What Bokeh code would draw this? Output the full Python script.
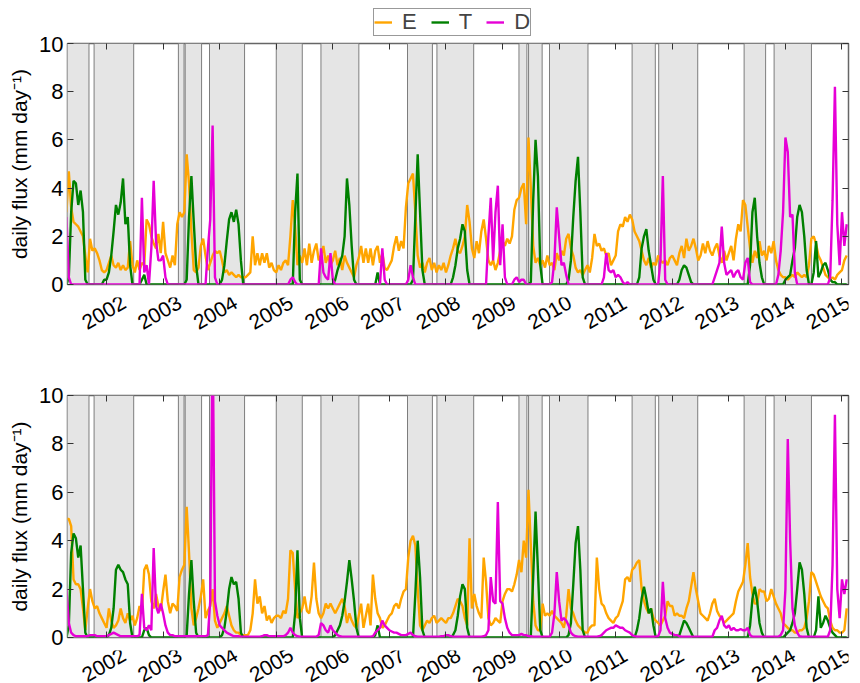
import numpy as np
from bokeh.plotting import figure
from bokeh.models import (FixedTicker, LinearAxis, Range1d, Legend, LegendItem,
                          Label, BoxAnnotation, CustomJSTickFormatter)
from bokeh.layouts import column
from bokeh.embed import file_html
from bokeh.resources import INLINE

# ---------------- data (half-monthly samples, first sample at 2001 + 7/24) ----------------
FIRST_STEP = 7
STEPS_PER_YEAR = 24

E_top = [
    3.0, 4.7, 3.2, 2.6, 2.5, 2.4, 2.2, 2.0, 1.2, 0.5, 1.9, 1.4, 1.5, 1.3, 1.0, 0.6, 0.5,
    0.6, 0.9, 1.2, 0.8, 0.7, 0.9, 0.6, 0.8, 0.6, 0.7, 1.8, 0.8, 0.5, 1.0, 0.6, 0.9, 0.8, 2.7, 2.5, 2.0, 1.7, 1.5, 2.1, 1.3,
    2.6, 1.3, 1.0, 0.7, 1.2, 0.8, 2.5, 3.0, 2.8, 3.0, 5.4, 4.2, 2.2, 0.6, 0.5, 0.7, 1.6, 1.9, 1.2, 0.6, 0.9, 1.2, 1.4, 1.3,
    1.4, 1.0, 0.5, 0.6, 0.4, 0.5, 0.4, 0.3, 0.4, 0.3, 0.3, 0.3, 0.4, 0.5, 2.0, 0.8, 1.3, 0.8, 1.3, 0.9, 1.3, 0.7, 0.9, 0.6,
    0.5, 0.8, 0.6, 0.9, 1.0, 0.8, 2.0, 3.5, 2.4, 0.8, 1.2, 0.9, 1.5, 0.8, 1.7, 0.9, 1.4, 1.7, 1.0, 1.2, 1.6, 0.9, 1.2, 0.8,
    1.0, 1.4, 0.8, 1.1, 0.6, 1.2, 0.9, 0.7, 0.5, 0.3, 0.8, 1.1, 1.6, 0.9, 1.5, 0.9, 1.5, 0.8, 1.4, 1.6, 0.9, 1.3, 0.7, 0.6,
    0.8, 1.0, 1.6, 2.0, 1.4, 1.8, 1.5, 3.2, 4.2, 4.4, 4.6, 3.0, 1.2, 0.7, 0.9, 0.5, 0.9, 1.1, 0.6, 0.9, 0.5, 0.8, 0.6, 0.9,
    0.5, 0.8, 1.2, 1.5, 1.9, 1.4, 1.3, 1.6, 2.0, 3.3, 2.6, 1.5, 1.1, 1.8, 1.3, 2.2, 2.7, 1.9, 1.0, 0.8, 1.0, 0.6, 0.9, 1.4,
    1.8, 1.6, 1.9, 1.7, 2.0, 3.1, 3.5, 3.6, 4.0, 4.2, 2.5, 6.1, 4.0, 1.6, 0.9, 1.1, 0.8, 1.0, 0.7, 1.2, 0.8, 0.9, 0.6, 1.3,
    1.0, 1.4, 1.2, 1.9, 2.1, 1.5, 1.2, 0.7, 0.5, 0.6, 0.4, 0.6, 0.8, 0.5, 1.1, 2.1, 1.6, 1.7, 1.4, 1.5, 1.2, 1.3, 0.8, 1.0,
    1.2, 2.2, 2.5, 2.4, 2.8, 2.6, 2.9, 2.7, 2.2, 2.0, 1.8, 1.4, 1.0, 0.8, 1.1, 0.7, 0.9, 0.8, 1.2, 1.0, 0.9, 1.0, 0.8, 1.1,
    1.2, 1.0, 0.8, 1.3, 1.6, 1.1, 1.9, 1.4, 1.6, 1.9, 1.5, 1.0, 1.2, 1.7, 1.3, 1.8, 1.4, 1.2, 1.5, 1.7, 1.2, 0.9, 1.4, 1.0,
    1.3, 1.6, 1.0, 1.9, 2.5, 2.2, 3.5, 3.3, 2.4, 1.5, 0.9, 1.4, 1.1, 1.8, 1.2, 1.4, 1.0, 1.6, 1.3, 1.8, 1.0, 0.6, 0.4, 0.3,
    0.3, 0.2, 0.3, 0.4, 0.3, 0.5, 0.4, 0.3, 0.4, 0.3, 0.8, 1.9, 2.0, 1.7, 1.2, 1.0, 0.7, 0.4, 0.3, 0.2, 0.3, 0.2, 0.4, 0.5,
    0.6, 1.0, 1.2,
]

T_top = [
    0, 0.3, 3.0, 4.3, 4.2, 3.3, 3.9, 3.0, 0.2, 0, 0, 0, 0, 0, 0, 0, 0.2,
    0.2, 0.5, 1.2, 2.2, 3.3, 2.9, 3.4, 4.4, 2.5, 2.8, 0.8, 0, 0, 0, 0, 0.2, 0.4, 0, 0, 0, 0, 0, 0, 0,
    0, 0, 0, 0, 0, 0, 0, 0, 0, 0, 0.2, 2.8, 4.5, 2.6, 0.8, 0, 0, 0, 0, 0, 0, 0, 0, 0,
    0, 0.2, 0.8, 1.8, 2.7, 3.0, 2.6, 3.1, 2.5, 1.0, 0, 0, 0, 0, 0, 0, 0, 0, 0, 0, 0, 0, 0, 0,
    0, 0, 0, 0, 0, 0, 0, 0, 3.0, 4.6, 0.2, 0, 0, 0, 0, 0, 0, 0, 0, 0, 0, 0, 0, 0,
    0, 0.2, 0.6, 0.9, 1.2, 2.0, 4.4, 3.3, 1.6, 0.2, 0, 0, 0, 0, 0, 0, 0, 0, 0, 0.5, 0, 0, 0, 0,
    0, 0, 0, 0, 0, 0, 0, 0, 0, 0, 0.2, 2.8, 5.4, 3.0, 0.6, 0, 0, 0, 0, 0, 0, 0, 0, 0,
    0, 0, 0, 0.3, 0.8, 1.5, 1.9, 2.5, 2.2, 0.6, 0, 0, 0, 0, 0, 0, 0, 0, 0, 0, 0, 0, 0, 0,
    0, 0, 0, 0, 0, 0, 0, 0, 0, 0, 0, 0, 0.1, 3.5, 6.0, 4.5, 0.8, 0, 0, 0, 0, 0, 0, 0,
    0, 0, 0, 0, 0.2, 1.0, 2.8, 4.3, 5.3, 3.0, 0.3, 0, 0, 0, 0, 0, 0, 0, 0, 0, 0, 0, 0, 0,
    0, 0, 0, 0, 0, 0, 0, 0, 0, 0, 0.3, 1.5, 2.0, 2.3, 1.4, 0.8, 0.2, 0, 0, 0, 0, 0, 0, 0,
    0, 0, 0, 0.2, 0.6, 0.8, 0.7, 0.4, 0.1, 0, 0, 0, 0, 0, 0, 0, 0, 0, 0, 0, 0, 0, 0, 0,
    0, 0, 0, 0, 0, 0, 0, 0, 0, 0.8, 3.0, 3.6, 2.0, 0.9, 0.3, 0, 0, 0, 0, 0, 0, 0, 0, 0,
    0.2, 0.3, 0.4, 1.0, 1.5, 2.8, 3.3, 3.0, 2.0, 0.6, 0, 0, 0.5, 1.8, 0.3, 0.5, 0.8, 0.9, 0.6, 0.2, 0.1, 0.1, 0, 0,
    0, 0, 0,
]

D_top = [
    2.8, 0.3, 0, 0, 0, 0, 0, 0, 0, 0, 0, 0, 0, 0, 0, 0, 0,
    0, 0, 0, 0, 0, 0, 0, 0, 0, 0, 0, 0, 0, 0, 0, 3.6, 0.5, 0.8, 0, 1.5, 4.3, 1.8, 1.0, 1.0,
    1.2, 0.3, 0, 0, 0, 0, 0, 0, 0, 0, 0, 0, 0, 0, 0, 0, 0, 0, 0, 1.5, 2.7, 6.6, 0.3, 0,
    0, 0, 0, 0, 0, 0, 0, 0, 0, 0, 0, 0, 0, 0, 0, 0, 0, 0, 0, 0, 0, 0, 0, 0,
    0, 0, 0, 0, 0, 0, 0.2, 0.3, 0.1, 0, 0, 0, 0, 0, 0, 0, 0, 0, 0, 1.5, 0.5, 0.3, 0.2, 1.3,
    0.2, 0, 0, 0, 0, 0, 0, 0, 0, 0, 0, 0, 0, 0, 0, 0, 0, 0, 0, 0, 0, 1.5, 0.2, 0,
    0, 0, 0, 0, 0, 0, 0, 0, 0.2, 0.8, 0.3, 0, 0, 0, 0, 0, 0, 0, 0, 0, 0, 0, 0, 0,
    0, 0, 0, 0, 0, 0, 0, 0, 0, 0, 0, 0, 0, 0, 0, 0, 0, 0, 2.0, 3.6, 1.0, 3.0, 4.1, 0.8,
    2.5, 0.3, 0, 0, 0, 0.2, 0.3, 0.1, 0.2, 0.2, 0, 0, 0, 0, 0, 0, 0, 0, 0, 0, 0, 0.1, 1.0, 3.2,
    2.0, 0.8, 0.9, 0.4, 0, 0, 0, 0, 0, 0, 0, 0, 0, 0, 0, 0, 0, 0, 0, 0.3, 1.3, 0.6, 0.5, 0.6,
    0.3, 0.4, 0.3, 0.1, 0, 0.1, 0, 0, 0, 0, 0, 0, 0, 0, 0, 0, 0, 0, 0, 1.0, 4.5, 0.2, 0, 0,
    0, 0, 0, 0, 0, 0, 0, 0, 0, 0, 0, 0, 0, 0, 0, 0, 0, 0, 0.3, 0.6, 0.9, 2.4, 0.9, 0.4,
    0.5, 0.6, 0.3, 0.5, 0.6, 0.3, 0.2, 0.9, 1.1, 0.1, 0, 0, 0, 0, 0, 0, 0, 0, 0, 0, 0, 0.4, 1.4, 3.0,
    6.1, 5.5, 2.8, 2.9, 0.5, 0, 0, 0, 0, 0, 0, 0, 0, 0, 0, 0, 0, 0, 0, 0.3, 3.5, 8.2, 2.5, 0.8,
    3.0, 1.6, 2.5,
]

E_bottom = [
    4.9, 4.9, 4.6, 2.4, 2.2, 2.2, 2.0, 1.2, 0.3, 1.2, 2.0, 1.5, 1.2, 1.3, 1.0, 0.8, 0.6,
    0.4, 1.2, 0.7, 0.4, 0.5, 0.7, 1.2, 0.8, 0.6, 1.0, 0.7, 0.9, 0.5, 0.8, 1.3, 1.0, 2.8, 3.0, 2.6, 1.5, 1.2, 1.8, 1.3, 1.1,
    1.9, 2.6, 1.5, 1.0, 1.4, 1.3, 1.1, 2.5, 2.8, 3.0, 5.4, 3.5, 1.2, 0.5, 0.8, 1.2, 1.7, 2.4, 0.8, 1.1, 1.3, 2.0, 0.7, 0.4,
    0.6, 0.8, 1.0, 1.3, 0.9, 0.5, 0.3, 0.2, 0.2, 0.1, 0.1, 0.1, 0.1, 0.3, 1.0, 2.4, 1.4, 1.7, 1.0, 1.3, 0.7, 0.9, 0.6, 0.8,
    0.9, 0.9, 0.8, 1.1, 1.0, 1.6, 3.6, 3.5, 2.0, 0.8, 1.0, 1.2, 1.7, 1.1, 1.0, 1.7, 3.1, 1.6, 1.0, 0.8, 1.0, 1.4, 1.2, 1.4,
    1.2, 1.0, 1.2, 1.4, 1.6, 1.3, 0.6, 1.0, 0.7, 0.5, 0.4, 0.9, 1.4, 0.4, 0.9, 1.4, 0.5, 2.6, 1.6, 1.0, 0.8, 0.4, 0.5, 0.7,
    0.9, 1.0, 1.3, 1.4, 1.2, 1.6, 1.9, 2.0, 3.3, 4.0, 4.2, 3.8, 2.0, 0.5, 0.3, 0.5, 0.7, 0.6, 0.8, 0.9, 0.6, 0.7, 0.8, 0.7,
    0.6, 0.8, 0.8, 1.0, 1.3, 1.6, 1.5, 1.3, 0.8, 0.5, 4.1, 1.2, 1.8, 1.3, 1.0, 0.8, 3.3, 2.3, 0.8, 0.5, 0.6, 0.8, 0.7, 0.6,
    1.5, 1.8, 2.0, 2.0, 1.9, 2.2, 2.6, 3.2, 2.7, 4.0, 3.3, 6.1, 3.8, 1.5, 0.5, 0.3, 0.3, 1.4, 0.9, 1.0, 0.9, 1.1, 0.9, 0.8,
    0.7, 0.6, 0.4, 0.9, 2.0, 1.2, 1.0, 0.7, 0.5, 0.4, 0.3, 0.2, 0.2, 0.4, 0.5, 0.5, 3.3, 2.0, 1.4, 1.3, 1.0, 0.8, 0.7, 0.6,
    0.8, 0.9, 1.2, 1.5, 2.4, 2.5, 2.3, 2.8, 2.9, 3.1, 3.2, 2.0, 1.5, 1.2, 1.0, 1.2, 0.8, 0.7, 0.6, 0.5, 0.7, 0.9, 1.5, 1.3,
    1.3, 0.9, 1.0, 0.9, 0.9, 0.8, 1.2, 1.5, 2.1, 2.7, 2.0, 1.5, 1.0, 0.9, 0.8, 0.7, 1.0, 1.4, 1.6, 1.1, 0.9, 0.8, 0.6, 0.7,
    0.8, 0.9, 1.0, 1.5, 1.9, 2.1, 2.3, 3.0, 3.9, 2.5, 1.8, 1.4, 1.4, 2.0, 1.9, 1.9, 1.5, 1.6, 2.0, 1.7, 1.4, 1.2, 1.0, 0.6,
    0.5, 0.4, 0.3, 0.3, 0.2, 0.2, 0.3, 0.3, 0.4, 0.8, 1.5, 2.7, 2.6, 2.3, 2.0, 1.7, 1.5, 1.3, 1.2, 0.7, 0.4, 0.3, 0.3, 0.2,
    0.2, 0.3, 1.2,
]

T_bottom = [
    0, 0.5, 3.5, 4.3, 4.1, 3.3, 3.8, 2.0, 0.2, 0, 0, 0, 0, 0, 0, 0, 0,
    0, 0.1, 0.4, 1.2, 2.8, 3.0, 2.8, 2.7, 2.4, 2.2, 0.6, 0, 0, 0, 0, 0, 0.3, 0.4, 0.1, 0, 0, 0, 0, 0,
    0, 0, 0, 0, 0, 0, 0, 0, 0, 0, 0.1, 1.8, 3.2, 1.5, 0.2, 0, 0, 0, 0, 0, 0, 0, 0, 0,
    0, 0.1, 0.4, 1.1, 2.0, 2.5, 2.2, 2.3, 1.6, 0.2, 0, 0, 0, 0, 0, 0, 0, 0, 0, 0, 0, 0, 0, 0,
    0, 0, 0, 0, 0, 0, 0, 0, 1.0, 3.6, 0.8, 0, 0, 0, 0, 0, 0, 0, 0, 0, 0, 0, 0, 0,
    0, 0.1, 0.3, 0.5, 0.9, 1.5, 2.3, 3.2, 2.4, 1.5, 0.4, 0, 0, 0, 0, 0, 0, 0, 0.1, 0.5, 0, 0, 0, 0,
    0, 0, 0, 0, 0, 0, 0, 0, 0, 0, 0, 1.8, 4.0, 2.5, 0.3, 0, 0, 0, 0, 0, 0, 0, 0, 0,
    0, 0, 0, 0.1, 0.3, 0.9, 1.7, 2.2, 2.0, 0.4, 0, 0, 0, 0, 0, 0, 0, 0, 0, 0, 0, 0, 0, 0,
    0, 0, 0, 0, 0, 0, 0, 0, 0, 0, 0, 0, 0.1, 2.5, 5.2, 2.8, 0.3, 0, 0, 0, 0, 0, 0, 0,
    0, 0, 0, 0, 0.1, 0.6, 2.2, 3.9, 4.6, 2.8, 0.3, 0, 0, 0, 0, 0, 0, 0, 0, 0, 0, 0, 0, 0,
    0, 0, 0, 0, 0, 0, 0, 0, 0, 0.3, 0.8, 1.6, 2.1, 1.6, 1.0, 1.2, 0.5, 0, 0, 0, 0, 0, 0, 0,
    0, 0, 0, 0.1, 0.4, 0.7, 0.6, 0.4, 0.2, 0, 0, 0, 0, 0, 0, 0, 0, 0, 0, 0, 0, 0, 0, 0,
    0, 0, 0, 0, 0, 0, 0, 0, 0, 0.5, 1.6, 2.1, 1.5, 0.6, 0.2, 0, 0, 0, 0, 0, 0, 0, 0, 0,
    0.1, 0.2, 0.3, 0.6, 1.0, 2.0, 3.1, 2.8, 1.8, 0.4, 0, 0, 0, 0.3, 1.7, 0.4, 0.6, 0.9, 0.7, 0.4, 0.2, 0.1, 0, 0,
    0, 0, 0,
]

D_bottom = [
    2.0, 0.6, 0.2, 0.1, 0.05, 0.05, 0.05, 0.05, 0.05, 0.05, 0.1, 0.1, 0.1, 0.05, 0.05, 0.05, 0.05,
    0.05, 0.1, 0.15, 0.2, 0.15, 0.1, 0.05, 0.05, 0.05, 0.05, 0.05, 0.05, 0.05, 0.05, 0.1, 1.8, 0.4, 0.3, 0.5, 0.3, 3.7, 1.3, 1.0, 1.4,
    1.0, 0.5, 0.2, 0.1, 0.1, 0.05, 0.05, 0.05, 0.05, 0.05, 0.05, 0.05, 0.05, 0.05, 0.05, 0.05, 0.05, 0.05, 0.05, 0.1, 1.5, 13.0, 1.5, 0.9,
    0.5, 0.4, 0.3, 0.2, 0.15, 0.1, 0.05, 0.05, 0.05, 0.03, 0.03, 0.03, 0.03, 0.03, 0.03, 0.03, 0.03, 0.03, 0.05, 0.1, 0.1, 0.05, 0.05, 0.05,
    0.05, 0.05, 0.05, 0.05, 0.1, 0.2, 0.4, 0.2, 0.1, 0.05, 0.03, 0.03, 0.03, 0.03, 0.03, 0.03, 0.03, 0.03, 0.1, 0.6, 0.5, 0.3, 0.2, 0.5,
    0.3, 0.2, 0.1, 0.05, 0.03, 0.03, 0.03, 0.03, 0.03, 0.03, 0.03, 0.03, 0.03, 0.03, 0.03, 0.03, 0.03, 0.05, 0.2, 0.3, 0.4, 0.7, 0.5, 0.4,
    0.3, 0.25, 0.2, 0.2, 0.15, 0.1, 0.1, 0.1, 0.15, 0.2, 0.1, 0.05, 0.03, 0.03, 0.03, 0.03, 0.03, 0.03, 0.03, 0.03, 0.03, 0.03, 0.05, 0.05,
    0.1, 0.1, 0.05, 0.03, 0.03, 0.03, 0.03, 0.03, 0.03, 0.03, 0.03, 0.03, 0.03, 0.03, 0.03, 0.03, 0.05, 0.1, 0.3, 2.5, 1.5, 1.4, 5.6, 1.5,
    1.4, 0.8, 0.4, 0.2, 0.1, 0.1, 0.1, 0.1, 0.15, 0.1, 0.1, 0.05, 0.05, 0.03, 0.03, 0.03, 0.03, 0.03, 0.03, 0.03, 0.03, 0.2, 1.0, 2.7,
    1.5, 0.7, 0.8, 0.7, 0.5, 0.2, 0.1, 0.05, 0.03, 0.03, 0.03, 0.03, 0.03, 0.03, 0.03, 0.03, 0.03, 0.05, 0.1, 0.2, 0.3, 0.35, 0.4, 0.4,
    0.5, 0.45, 0.4, 0.4, 0.3, 0.25, 0.2, 0.1, 0.05, 0.03, 0.03, 0.03, 0.03, 0.03, 0.03, 0.03, 0.03, 0.03, 0.05, 0.3, 2.3, 0.8, 0.4, 0.2,
    0.15, 0.1, 0.1, 0.05, 0.03, 0.03, 0.03, 0.03, 0.03, 0.03, 0.03, 0.03, 0.03, 0.03, 0.03, 0.03, 0.03, 0.03, 0.3, 0.4, 0.7, 0.9, 0.5, 0.4,
    0.5, 0.3, 0.4, 0.3, 0.3, 0.35, 0.3, 0.3, 0.4, 0.1, 0.03, 0.03, 0.03, 0.03, 0.03, 0.03, 0.03, 0.03, 0.03, 0.03, 0.03, 0.03, 0.1, 0.3,
    2.0, 8.2, 4.0, 1.2, 0.5, 0.2, 0.05, 0.03, 0.03, 0.03, 0.03, 0.03, 0.03, 0.03, 0.03, 0.03, 0.03, 0.03, 0.03, 0.3, 3.0, 9.2, 2.0, 0.8,
    2.4, 1.8, 2.4,
]

# grey (shaded) periods, start / end in decimal years
band_start = [2001.20, 2001.78, 2003.27, 2003.39, 2003.82, 2005.00, 2005.79, 2007.32,
              2007.84, 2009.29, 2009.46, 2009.83, 2011.29, 2011.76, 2013.27, 2013.80]
band_end = [2001.69, 2002.48, 2003.37, 2003.68, 2004.44, 2005.46, 2006.46, 2007.76,
            2008.49, 2009.43, 2009.70, 2010.51, 2011.70, 2012.45, 2013.65, 2014.46]

year_ticks = list(range(2002, 2016))
y_ticks = [0, 2, 4, 6, 8, 10]
series_names = ["E", "T", "D"]
series_colors = ["#ffa500", "#008000", "#e600d6"]

X_START, X_END = 2001.31, 2015.115
FONT = "Liberation Sans"
WIDTH = 860


def time_axis(n):
    return 2001 + (FIRST_STEP + np.arange(n)) / STEPS_PER_YEAR


def blank_axis():
    return dict(formatter=CustomJSTickFormatter(code="return ''"),
                major_label_text_font_size="0px", major_label_standoff=0,
                major_tick_in=6, major_tick_out=0, minor_tick_line_color=None,
                axis_line_color=None, major_tick_line_color="#333333")


def bare_figure(height, b_left, b_right, x_range):
    s = figure(width=WIDTH, height=height, x_range=x_range, y_range=Range1d(0, height),
               x_axis_location=None, y_axis_location=None, output_backend="svg",
               toolbar_location=None, min_border_top=0, min_border_bottom=0,
               min_border_left=b_left, min_border_right=b_right)
    s.grid.visible = False
    s.outline_line_color = None
    s.background_fill_color = "white"
    s.border_fill_color = "white"
    return s


def make_panel(series, height, b_top, b_bottom, b_left, b_right):
    p = figure(width=WIDTH, height=height, x_range=Range1d(X_START, X_END),
               y_range=Range1d(0, 10), output_backend="svg", toolbar_location=None,
               min_border_top=b_top, min_border_bottom=b_bottom,
               min_border_left=b_left, min_border_right=b_right)
    p.grid.visible = False
    p.outline_line_color = "#666666"
    p.outline_line_width = 1.5
    p.background_fill_color = "white"
    p.border_fill_color = "white"

    for s, e in zip(band_start, band_end):
        p.add_layout(BoxAnnotation(left=s, right=e, fill_color="#e5e5e5", fill_alpha=1.0,
                                   line_color="#7d7d7d", line_alpha=1.0, line_width=1.0,
                                   level="underlay"))

    for vals, col in zip(series, series_colors):
        p.line(time_axis(len(vals)), vals, line_color=col, line_width=2.4)

    xa = p.xaxis[0]
    xa.ticker = FixedTicker(ticks=year_ticks)
    for k, v in blank_axis().items():
        setattr(xa, k, v)
    p.add_layout(LinearAxis(ticker=FixedTicker(ticks=year_ticks), **blank_axis()), "above")

    ya = p.yaxis[0]
    ya.ticker = FixedTicker(ticks=y_ticks)
    ya.major_label_text_font = FONT
    ya.major_label_text_font_size = "22px"
    ya.major_label_text_color = "black"
    ya.major_label_standoff = 4
    ya.major_tick_in = 6
    ya.major_tick_out = 0
    ya.major_tick_line_color = "#333333"
    ya.minor_tick_line_color = None
    ya.axis_line_color = None
    ya.axis_label = "daily flux (mm day\u207b\u00b9)"
    ya.axis_label_text_font = FONT
    ya.axis_label_text_font_size = "21px"
    ya.axis_label_text_font_style = "normal"
    ya.axis_label_text_color = "black"
    ya.axis_label_standoff = 5
    p.add_layout(LinearAxis(ticker=FixedTicker(ticks=y_ticks), **blank_axis()), "right")
    return p


def year_strip(height, b_left, frame_right, center_from_top):
    # year labels on a strip that shares the panel's x scale, extended to the right edge
    per_px = (X_END - X_START) / (frame_right - b_left)
    xr = Range1d(X_START, X_START + (WIDTH - b_left) * per_px)
    s = bare_figure(height, b_left, 0, xr)
    for yr in year_ticks:
        s.add_layout(Label(x=yr, y=height - center_from_top, x_units="data", y_units="screen",
                           x_offset=-2, text=str(yr), angle=30, angle_units="deg",
                           text_align="center", text_baseline="middle",
                           text_font=FONT, text_font_size="21px", text_color="black"))
    return s


# ---- legend strip (proxy lines carry only NaN so nothing is drawn in the strip itself)
legend_strip = bare_figure(36, 66, 12, Range1d(X_START, X_END))
proxies = [legend_strip.line(np.array([np.nan, np.nan]), np.array([np.nan, np.nan]),
                             line_color=c, line_width=2.4) for c in series_colors]
legend = Legend(items=[LegendItem(label=n, renderers=[r]) for n, r in zip(series_names, proxies)],
                orientation="horizontal", location=(306, 0),
                label_text_font=FONT, label_text_font_size="22px",
                glyph_width=18, glyph_height=14, label_standoff=10, spacing=14,
                padding=0, margin=0, label_height=14, label_width=0,
                border_line_color="#333333", border_line_width=1.2,
                background_fill_color="white", background_fill_alpha=1.0)
legend_strip.add_layout(legend)

# rows: legend 0-36 | top panel 36-297 | labels 297-340 | bottom panel 340-650 | labels 650-683
p1 = make_panel([E_top, T_top, D_top], 261, 7, 13, 66, 12)
labels1 = year_strip(43, 66, 848, 15)
p2 = make_panel([E_bottom, T_bottom, D_bottom], 310, 55, 13, 67, 11)
labels2 = year_strip(33, 67, 849, 14.5)

layout = column(legend_strip, p1, labels1, p2, labels2, spacing=0)
open("out.html", "w").write(file_html(layout, INLINE))
